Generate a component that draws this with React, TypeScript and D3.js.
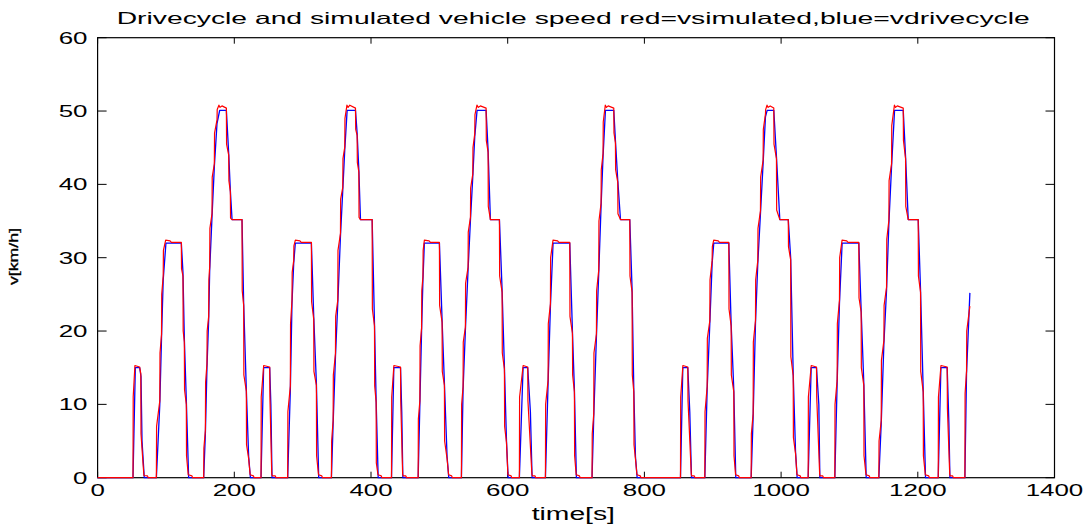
import React from "react";
import * as d3 from "d3";

// Drive cycle speed (blue): [time s, speed km/h]
const driveCycle: [number, number][] = [
  [0,0],[51.8,0],[55.2,15],[61.5,15],[63.5,13.8],[65,5],[68.3,0],
  [86,0],[91,10],[93.5,19],[96,27],[100,32],[122.5,32],[124.9,28],[126.9,19],[129.8,10.6],[133.2,0],
  [155.2,0],[157.7,6],[160,15],[162.5,21.5],[164,28.3],[167.4,35.6],[170.8,42.4],[174.7,48.3],[178.6,50.1],[188.4,50.1],[191.8,44.2],[194.2,39.2],[196.7,35.2],[211.3,35.2],[213.7,23.8],[217.6,12],[221,2.9],[223.6,0],
  [239.1,0],[242.9,15],[251.8,15],[253.5,10],[255.2,0],
  [278.1,0],[282,12],[284.4,23.8],[286.9,29.2],[289.3,32],[312.8,32],[316.2,22],[320.1,12.9],[323.5,0],
  [342.1,0],[344.6,7.4],[348,16.5],[351.4,23.8],[355.3,32.9],[358.7,39.2],[361.6,44.7],[365.1,50.1],[377.3,50.1],[379.7,47],[382.2,42],[384.6,35.2],[401.7,35.2],[405.1,21],[407.5,10.6],[410.5,0],
  [430,0],[433.4,15],[443.2,15],[445,9],[446.6,0],
  [469,0],[471.5,10],[474,20],[476,27],[478.1,32],[500.1,32],[504,21.5],[507.4,12.9],[511.3,2.9],[513.8,0],
  [532.3,0],[534.7,12],[538.1,20.1],[542,28.3],[545.5,35.1],[548.9,41],[551.8,46.5],[555.2,50.1],[568.4,50.1],[571.3,44.7],[574.7,35.2],[587.9,35.2],[591.8,25.6],[595.2,15.1],[598.2,5.1],[600.6,0],
  [617.1,0],[622.5,15],[629.3,15],[633.2,9],[635.7,0],
  [655.2,0],[659.1,12.9],[662.5,23.3],[666.4,32],[690.8,32],[694.7,20],[697.6,12],[700.5,0],
  [723.4,0],[725.9,8.3],[729.8,19.2],[733.2,27.9],[736.6,37],[739.5,43.8],[743,50.1],[755.2,50.1],[757.6,46],[761,40.6],[765,35.2],[778.6,35.2],[782,25.6],[784.5,12],[786.9,2.9],[789.4,0],
  [852.8,0],[856.2,15],[863.5,15],[866.4,9],[868.9,0],
  [888.4,0],[891.8,12],[895.7,21],[899.1,29.2],[901.5,32],[923.5,32],[926.9,21],[930.8,12],[933.7,0],
  [956.2,0],[959.1,8.3],[962.5,21],[965.9,29.2],[969.8,36],[973.7,42.9],[977.1,49.2],[979.6,50.1],[989.3,50.1],[993.2,43.8],[998.1,35.2],[1010.5,35.2],[1014,30],[1017.7,14.2],[1021.1,3.6],[1023.5,0],
  [1039.6,0],[1044,15],[1051.8,15],[1055.2,10],[1056.7,0],
  [1078.6,0],[1082,12.9],[1085.4,23.8],[1089.3,32],[1113.7,32],[1117.1,22.9],[1121,12.9],[1124.5,0],
  [1143,0],[1146.5,7.4],[1150.4,18.3],[1154.3,25.6],[1157.7,34.7],[1161.6,42.4],[1166,50.1],[1178.7,50.1],[1182.1,43.8],[1186,35.2],[1200.6,35.2],[1204,25.6],[1207.9,12],[1211.3,0],
  [1229.9,0],[1233.8,15],[1243,15],[1245.5,7.4],[1247,0],
  [1268.9,0],[1271.3,14.2],[1276.2,25.2],
];

// Simulated vehicle speed (red): [time s, speed km/h]
const simulated: [number, number][] = [
  [0,0],[51.8,0],[52.1,11],[54.6,15.3],[61.5,15.1],[63.2,14.2],[63.5,6],[66.8,1.5],[67.8,0.3],[73,0.25],[74,0],
  [86,0],[86.3,7],[91,10.5],[91.3,17],[93.5,19.5],[93.8,25],[96,27.5],[96.3,31],[99.6,32.4],[106,32.3],[108,32.1],[122.5,32.1],[122.8,28.5],[124.9,27.5],[125.2,20],[126.9,18.5],[127.2,12],[129.8,10],[130.1,3],[132.6,0.4],[138,0.25],[139,0],
  [155.2,0],[155.5,4],[157.7,6.5],[158,13],[160,15.5],[160.3,20],[162.5,22],[162.8,27],[164,28.8],[164.3,34],[167.4,36],[167.7,41],[170.8,42.8],[171.1,47],[174.7,48.8],[175,50.2],[177.5,50.8],[179,50.5],[182,50.7],[188.4,50.4],[188.7,45.5],[191.8,44],[192.1,40.5],[194.2,39],[194.5,35.4],[196.7,35.2],[211.3,35.2],[211.6,25.5],[213.7,23.5],[214,14],[217.6,11.8],[217.9,4.5],[221,2.6],[223.2,0.4],[228,0.25],[229,0],
  [239.1,0],[239.4,11],[243,15.3],[251.8,15.1],[252.1,11],[254.8,0.5],[255.5,0.25],[260,0.25],[261,0],
  [278.1,0],[278.4,9],[282,12.5],[282.3,21],[284.4,24.2],[284.7,28],[286.9,29.6],[287.2,31.6],[289.3,32.4],[296,32.3],[298,32.1],[312.8,32.1],[313.1,24],[316.2,21.6],[316.5,14.5],[320.1,12.6],[320.4,3],[323.2,0.4],[328,0.25],[329,0],
  [342.1,0],[342.4,5],[344.6,7.8],[344.9,14],[348,16.9],[348.3,22],[351.4,24.2],[351.7,31],[355.3,33.3],[355.6,38],[358.7,39.6],[359,43.5],[361.6,45.1],[361.9,49],[364.8,50.8],[366.5,50.5],[369,50.8],[377.3,50.4],[377.6,47.5],[379.7,46.7],[380,43],[382.2,41.7],[382.5,35.5],[384.6,35.2],[401.7,35.2],[402,23],[405.1,20.7],[405.4,12.5],[407.5,10.3],[407.8,2],[410.2,0.4],[415,0.25],[416,0],
  [430,0],[430.3,11],[433.5,15.3],[443.2,15.1],[443.5,10.5],[446.3,0.5],[447,0.25],[451,0.25],[452,0],
  [469,0],[469.3,8],[471.5,10.5],[471.8,18],[474,20.4],[474.3,25.5],[476,27.4],[476.3,31],[478.1,32.4],[485,32.3],[487,32.1],[500.1,32.1],[500.4,23.5],[504,21.2],[504.3,14.5],[507.4,12.6],[507.7,5],[511.3,2.6],[513.5,0.4],[518,0.25],[519,0],
  [532.3,0],[532.6,10],[534.7,12.4],[535,18.5],[538.1,20.5],[538.4,26.5],[542,28.7],[542.3,33.5],[545.5,35.5],[545.8,39.5],[548.9,41.4],[549.2,45],[551.8,46.9],[552.1,49.5],[555,50.8],[557,50.5],[560,50.7],[568.4,50.4],[568.7,46],[571.3,44.4],[571.6,37],[574.7,35.2],[587.9,35.2],[588.2,27.5],[591.8,25.3],[592.1,17],[595.2,14.8],[595.5,7],[598.2,4.8],[600.3,0.4],[605,0.25],[606,0],
  [617.1,0],[617.4,11],[622.6,15.3],[629.3,15.1],[629.6,10.5],[635.4,0.5],[636,0.25],[640,0.25],[641,0],
  [655.2,0],[655.5,10],[659.1,13.3],[659.4,21],[662.5,23.7],[662.8,30],[666.3,32.4],[673,32.3],[675,32.1],[690.8,32.1],[691.1,22],[694.7,19.7],[695,14],[697.6,11.7],[697.9,3],[700.2,0.4],[705,0.25],[706,0],
  [723.4,0],[723.7,6],[725.9,8.7],[726.2,17],[729.8,19.6],[730.1,25.5],[733.2,28.3],[733.5,35],[736.6,37.4],[736.9,42],[739.5,44.2],[739.8,48.5],[742.8,50.8],[744.5,50.5],[747,50.7],[755.2,50.4],[755.5,47],[757.6,45.7],[757.9,42],[761,40.3],[761.3,36],[765,35.2],[778.6,35.2],[778.9,27.5],[782,25.3],[782.3,14],[784.5,11.7],[784.8,4.5],[786.9,2.6],[789.1,0.4],[794,0.25],[795,0],
  [852.8,0],[853.1,11],[856.3,15.3],[863.5,15.1],[863.8,10.5],[868.6,0.5],[869.2,0.25],[873,0.25],[874,0],
  [888.4,0],[888.7,9],[891.8,12.4],[892.1,19],[895.7,21.4],[896,27],[899.1,29.6],[899.4,31.5],[901.4,32.4],[908,32.3],[910,32.1],[923.5,32.1],[923.8,23],[926.9,20.7],[927.2,14],[930.8,11.7],[931.1,3],[933.4,0.4],[938,0.25],[939,0],
  [956.2,0],[956.5,6],[959.1,8.7],[959.4,18.5],[962.5,21.4],[962.8,27],[965.9,29.6],[966.2,34],[969.8,36.4],[970.1,41],[973.7,43.3],[974,47.5],[977.1,49.6],[977.4,50.2],[979.4,50.8],[981,50.5],[984,50.7],[989.3,50.4],[989.6,45.5],[993.2,43.5],[993.5,36.5],[998.1,35.2],[1010.5,35.2],[1010.8,31.5],[1014,29.7],[1014.3,16.5],[1017.7,13.9],[1018,5.5],[1021.1,3.3],[1023.2,0.4],[1028,0.25],[1029,0],
  [1039.6,0],[1039.9,11],[1044.1,15.3],[1051.8,15.1],[1052.1,11],[1056.4,0.5],[1057,0.25],[1061,0.25],[1062,0],
  [1078.6,0],[1078.9,10],[1082,13.3],[1082.3,21],[1085.4,24.2],[1085.7,30],[1089.2,32.4],[1096,32.3],[1098,32.1],[1113.7,32.1],[1114,24.5],[1117.1,22.6],[1117.4,15],[1121,12.6],[1121.3,3],[1124.2,0.4],[1129,0.25],[1130,0],
  [1143,0],[1143.3,5],[1146.5,7.8],[1146.8,16],[1150.4,18.7],[1150.7,23.5],[1154.3,26],[1154.6,32.5],[1157.7,35.1],[1158,40.5],[1161.6,42.8],[1161.9,48],[1165.8,50.8],[1167.5,50.5],[1170,50.7],[1178.7,50.4],[1179,46],[1182.1,43.5],[1182.4,37],[1186,35.2],[1200.6,35.2],[1200.9,27.5],[1204,25.3],[1204.3,14.5],[1207.9,11.7],[1208.2,3],[1211,0.4],[1216,0.25],[1217,0],
  [1229.9,0],[1230.2,11],[1233.9,15.3],[1243,15.1],[1243.3,9.5],[1246.7,0.5],[1247.3,0.25],[1251,0.25],[1252,0],
  [1268.9,0],[1269.2,11.5],[1271.3,14.5],[1271.6,20],[1276.2,23.4],
];

const xTicks = [0, 200, 400, 600, 800, 1000, 1200, 1400];
const yTicks = [0, 10, 20, 30, 40, 50, 60];
const titleText = "Drivecycle and simulated vehicle speed red=vsimulated,blue=vdrivecycle";
const xLabelText = "time[s]";
const yLabelText = "v[km/h]";

const FONT = "'Liberation Sans', Arial, Helvetica, sans-serif";

export default function App() {
  const left = 97.6, right = 1054.5, top = 37.7, bottom = 477.7;
  const x = d3.scaleLinear().domain([0, 1400]).range([left, right]);
  const y = d3.scaleLinear().domain([0, 60]).range([bottom, top]);
  const line = d3.line<[number, number]>().x(d => x(d[0])).y(d => y(d[1]));
  const digitW = 14.4;

  return (
    <svg width={1090} height={525} style={{ position: "absolute", left: 0, top: 0, background: "#fff" }}>
      <rect x={0} y={0} width={1090} height={525} fill="#fff" />
      {/* title */}
      <text x={116.7} y={24} fontFamily={FONT} fontSize={16.5} textLength={913} lengthAdjust="spacingAndGlyphs" fill="#000">
        {titleText}
      </text>
      {/* box */}
      <rect x={left} y={top} width={right - left} height={bottom - top} fill="none" stroke="#000" strokeWidth={1.2} />
      {/* x ticks */}
      {xTicks.map(t => (
        <g key={"xt" + t}>
          <line x1={x(t)} x2={x(t)} y1={bottom} y2={bottom - 6} stroke="#000" strokeWidth={1} />
          <line x1={x(t)} x2={x(t)} y1={top} y2={top + 6} stroke="#000" strokeWidth={1} />
          <text x={x(t) - (String(t).length * digitW) / 2} y={496.3} fontFamily={FONT} fontSize={17}
            textLength={String(t).length * digitW} lengthAdjust="spacingAndGlyphs" fill="#000">{t}</text>
        </g>
      ))}
      {/* y ticks */}
      {yTicks.map(t => (
        <g key={"yt" + t}>
          <line x1={left} x2={left + 9} y1={y(t)} y2={y(t)} stroke="#000" strokeWidth={1} />
          <line x1={right} x2={right - 9} y1={y(t)} y2={y(t)} stroke="#000" strokeWidth={1} />
          <text x={87.5 - String(t).length * digitW} y={y(t) + 5.8} fontFamily={FONT} fontSize={17}
            textLength={String(t).length * digitW} lengthAdjust="spacingAndGlyphs" fill="#000">{t}</text>
        </g>
      ))}
      {/* axis labels */}
      <text x={531.7} y={519.5} fontFamily={FONT} fontSize={18} textLength={83.3} lengthAdjust="spacingAndGlyphs" fill="#000">
        {xLabelText}
      </text>
      <text transform="translate(17.5,256.5) rotate(-90)" x={-28.5} y={0} fontFamily={FONT} fontSize={12}
        textLength={57} lengthAdjust="spacingAndGlyphs" fill="#000" stroke="#000" strokeWidth={0.3}>{yLabelText}</text>
      {/* series */}
      <path d={line(driveCycle) ?? ""} fill="none" stroke="#0000ff" strokeWidth={1.3} strokeLinejoin="round" />
      <path d={line(simulated) ?? ""} fill="none" stroke="#ff0000" strokeWidth={1.2} strokeLinejoin="round" />
    </svg>
  );
}
